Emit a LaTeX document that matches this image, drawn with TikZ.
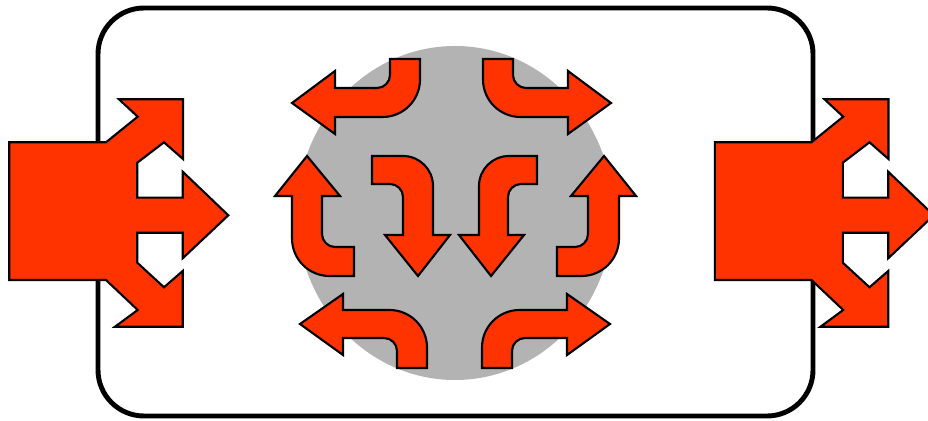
\documentclass[tikz,border=0pt]{standalone}
\usepackage{tikz}
\usetikzlibrary{positioning}

\definecolor{flame}{RGB}{255,51,0}
\definecolor{discgray}{RGB}{179,179,179}

\begin{document}
\begin{tikzpicture}[
        x=0.02cm, y=-0.02cm,
        hostbox/.style={draw, fill=white, line width=2.8pt, rounded corners=0.92cm},
        disc/.style={fill=discgray},
        flowarrow/.style={draw, fill=flame, line width=1.2pt, line join=miter},
        outerturn/.style={rounded corners=0.75cm},
        innerturn/.style={rounded corners=0.26cm},
        midturn/.style={rounded corners=0.6cm}
    ]
    \useasboundingbox (0,0) rectangle (928,421);

    % ============ HOST AND DISC ============
    \draw[hostbox] (98,8) rectangle (813,416);
    \fill[disc] (455,213) ellipse [x radius=158, y radius=167];

    % ============ IN / OUT FORKS ============
    \foreach \dx in {0,705.5} {
        \begin{scope}[shift={(\dx,0)}]
            \draw[flowarrow] (9.3,142.3) -- (106,142.3) -- (137.7,116.7) -- (119,99.3)
                -- (183,99.3) -- (183,159) -- (164,142.3) -- (137.3,162.7) -- (137.3,197.7)
                -- (182.7,197.7) -- (182.7,171.7) -- (228.3,215.3) -- (182.7,258.3)
                -- (182.7,232.7) -- (137.3,232.7) -- (137.3,262.7) -- (164,287.3)
                -- (182.7,271) -- (182.7,326.7) -- (115,326.7) -- (137.7,310)
                -- (106,280) -- (9.3,280) -- cycle;
        \end{scope}
    }

    % ============ TURNING ARROWS ============
    % top row
    \draw[flowarrow] (390,59) -- (420,59) [outerturn] -- (420,117) [sharp corners] -- (335,117)
        -- (335,134) -- (292,103) -- (335,71) -- (335,88) [innerturn] -- (390,88) [sharp corners] -- cycle;
    \draw[flowarrow] (513,59) -- (483,59) [outerturn] -- (483,117) [sharp corners] -- (568,117)
        -- (568,134) -- (611,103) -- (568,71) -- (568,88) [innerturn] -- (513,88) [sharp corners] -- cycle;

    % bottom row
    \draw[flowarrow] (397,368) -- (427,368) [outerturn] -- (427,310) [sharp corners] -- (343,310)
        -- (343,294) -- (300,324) -- (343,355) -- (343,338) [innerturn] -- (397,338) [sharp corners] -- cycle;
    \draw[flowarrow] (512,368) -- (482,368) [outerturn] -- (482,310) [sharp corners] -- (567,310)
        -- (567,294) -- (610,324) -- (567,355) -- (567,338) [innerturn] -- (512,338) [sharp corners] -- cycle;

    % sides
    \draw[flowarrow] (354,247) -- (354,276) [outerturn] -- (292,276) [sharp corners] -- (292,196)
        -- (275,196) -- (307,156) -- (340,196) -- (322,196) [innerturn] -- (322,247) [sharp corners] -- cycle;
    \draw[flowarrow] (557,247) -- (557,276) [outerturn] -- (619,276) [sharp corners] -- (619,196)
        -- (636,196) -- (604,156) -- (571,196) -- (588,196) [innerturn] -- (588,247) [sharp corners] -- cycle;

    % centre pair
    \draw[flowarrow] (372,184) -- (372,156) [midturn] -- (433,156) [sharp corners] -- (433,235)
        -- (450,235) -- (418,276) -- (385,235) -- (403,235) [innerturn] -- (403,184) [sharp corners] -- cycle;
    \draw[flowarrow] (537,184) -- (537,156) [midturn] -- (479,156) [sharp corners] -- (479,235)
        -- (459,235) -- (491,276) -- (524,235) -- (508,235) [innerturn] -- (508,184) [sharp corners] -- cycle;

\end{tikzpicture}
\end{document}
